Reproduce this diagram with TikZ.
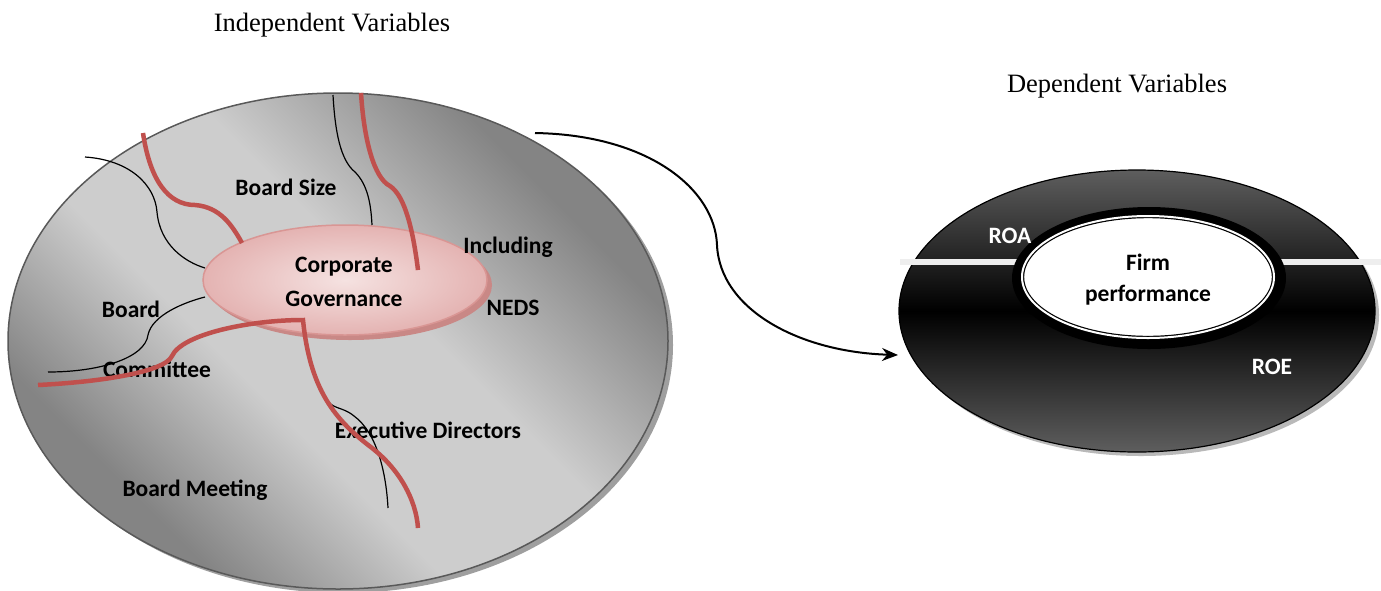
\documentclass[tikz,border=0pt]{standalone}
\usepackage{fontspec}
\setmainfont{Liberation Serif}
\newfontfamily\carlito{Carlito}
\usetikzlibrary{shapes.geometric,arrows.meta}
\definecolor{redline}{HTML}{C0504D}
\definecolor{pinkedge}{HTML}{D99694}
\definecolor{pinkdark}{HTML}{E4B3B2}
\definecolor{pinklight}{HTML}{F5E2E1}
\definecolor{pinkshadow}{HTML}{C98886}
\definecolor{disclight}{HTML}{CDCDCD}
\definecolor{discdark}{HTML}{848484}
\definecolor{ringgray}{HTML}{5E5E5E}
\definecolor{barwhite}{HTML}{EEEEEE}
\pgfdeclareverticalshading{discband}{100bp}{color(0bp)=(discdark); color(28bp)=(discdark);
    color(42bp)=(disclight); color(56bp)=(disclight); color(72bp)=(discdark); color(100bp)=(discdark)}
\tikzstyle{lbl}=[
        font = \carlito\bfseries\fontsize{23.5}{28}\selectfont,
        inner sep = 0pt
    ]
\tikzstyle{title}=[
        font = \fontsize{26.5}{31}\selectfont,
        inner sep = 0pt
    ]

\begin{document}
\begin{tikzpicture}[x=1pt, y=-1pt,
        oval/.style = {ellipse, inner sep=0pt, outer sep=0pt},
        redcurve/.style = {draw=redline, line width=4.5pt},
        thincurve/.style = {draw=black, line width=1.2pt}]
        \useasboundingbox (0,0) rectangle (1381,590);

        % titles
        \node[title] (indep) at (332,25) {Independent Variables};
        \node[title] (dep) at (1117,86) {Dependent Variables};

        % left disc
        \node[oval, fill=gray!75, minimum width=660pt, minimum height=496pt] (ivshadow) at (343,345) {};
        \node[oval, draw=gray!70!black, line width=1.5pt, shading=discband, shading angle=-45,
              minimum width=660pt, minimum height=496pt] (iv) at (338,341) {};

        % corporate governance
        \node[oval, fill=pinkshadow, minimum width=284pt, minimum height=110pt] (cgshadow) at (350,285) {};
        \node[oval, draw=pinkedge, line width=1.5pt, inner color=pinklight, outer color=pinkdark,
              minimum width=284pt, minimum height=110pt] (cg) at (345,280) {};

        \node[lbl] (corp) at (344,267) {Corporate};
        \node[lbl] (gov) at (344,299) {Governance};
        \node[lbl] (size) at (286,187) {Board Size};
        \node[lbl] (incl) at (508,247) {Including};
        \node[lbl] (neds) at (513,308) {NEDS};
        \node[lbl] (board) at (131,309) {Board};
        \node[lbl] (comm) at (157,369) {Committee};
        \node[lbl] (exec) at (428,430) {Executive Directors};
        \node[lbl] (meet) at (195,490) {Board Meeting};

        % thin branches
        \draw[thincurve] (85,157) .. controls (130,160) and (155,185) .. (157,212)
            .. controls (160,245) and (185,262) .. (205,268);
        \draw[thincurve] (333,95) .. controls (335,130) and (340,160) .. (355,172)
            .. controls (368,185) and (371,205) .. (372,225);
        \draw[thincurve] (48,372) .. controls (100,372) and (145,358) .. (148,335)
            .. controls (152,315) and (185,302) .. (205,297);
        \draw[thincurve] (326,398) .. controls (332,410) and (342,406) .. (354,416)
            .. controls (376,432) and (386,470) .. (388,508);

        % thick branches
        \draw[redcurve] (143,133) .. controls (150,180) and (168,205) .. (195,205)
            .. controls (220,207) and (232,225) .. (242,243);
        \draw[redcurve] (361,93) .. controls (364,140) and (374,178) .. (390,186)
            .. controls (405,196) and (413,230) .. (418,270);
        \draw[redcurve] (38,385) .. controls (100,382) and (165,372) .. (172,356)
            .. controls (182,334) and (250,320) .. (303,320)
            .. controls (310,390) and (335,420) .. (372,448)
            .. controls (400,470) and (416,500) .. (418,528);

        % right disc
        \node[oval, fill=gray!55, minimum width=476pt, minimum height=282pt] (dvshadow) at (1141,315) {};
        \node[oval, draw=black, line width=1.2pt, top color=ringgray, bottom color=ringgray, middle color=black,
              minimum width=476pt, minimum height=282pt] (dv) at (1137,311) {};
        \draw[barwhite, line width=6pt] (900,262) -- (1020,262);
        \draw[barwhite, line width=6pt] (1278,262) -- (1381,262);
        \node[oval, fill=black, minimum width=274pt, minimum height=142pt] (ring) at (1149,278) {};
        \node[oval, fill=white, draw=black, line width=1.2pt, double=white, double distance=2pt,
              minimum width=252pt, minimum height=122pt] (firm) at (1148,277) {};
        \node[lbl] (firmA) at (1148,262) {Firm};
        \node[lbl] (firmB) at (1148,295) {performance};
        \node[lbl, white] (roa) at (1010,236) {ROA};
        \node[lbl, white] (roe) at (1272,367) {ROE};

        % link
        \coordinate (from) at (535,133);
        \coordinate (to) at (898,355);
        \draw[line width=2pt, -{Stealth[length=16pt, width=13pt]}] (from)
            .. controls (650,135) and (715,190) .. (717,245)
            .. controls (720,310) and (800,352) .. (to);
    \end{tikzpicture}
\end{document}
